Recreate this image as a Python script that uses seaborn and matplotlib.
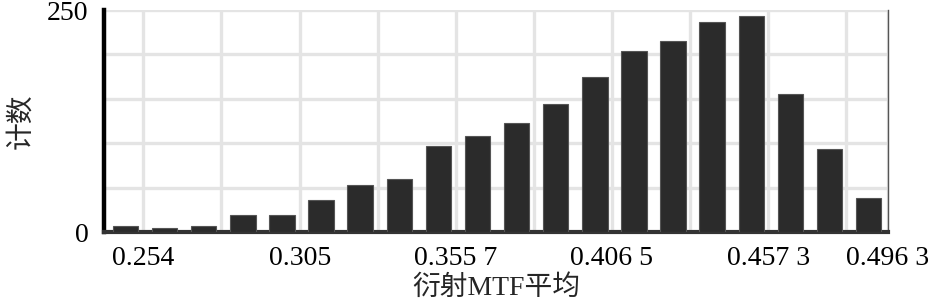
import numpy as np
import pandas as pd
import matplotlib
matplotlib.use("Agg")
import matplotlib.pyplot as plt
import seaborn as sns

# ---- data ----
bin_centers = [0.2483, 0.2610, 0.2738, 0.2865, 0.2992, 0.3119, 0.3246, 0.3374,
               0.3501, 0.3628, 0.3755, 0.3882, 0.4010, 0.4137, 0.4264, 0.4391,
               0.4518, 0.4646, 0.4773, 0.4900]
counts = [7, 5, 7, 19, 19, 36, 53, 60, 97, 108, 123, 144, 175, 204, 215, 236,
          243, 155, 93, 38]
bin_width = 0.01272
x_tick_values = [0.254, 0.305, 0.3557, 0.4065, 0.4573, 0.4963]
x_tick_labels = ["0.254", "0.305", "0.355 7", "0.406 5", "0.457 3", "0.496 3"]
x_grid_values = [0.2794, 0.3304, 0.3811, 0.4319, 0.4827]
y_tick_values = [0, 250]
y_grid_values = [50, 100, 150, 200]
x_label = "衍射MTF平均"
y_label = "计数"

sns.set_theme(style="white")
plt.rcParams["font.family"] = ["Liberation Serif", "Noto Sans CJK SC", "DejaVu Sans"]

df = pd.DataFrame({"mtf": bin_centers, "count": counts})
lo = bin_centers[0] - bin_width / 2
hi = bin_centers[-1] + bin_width / 2

fig = plt.figure(figsize=(9.45, 3.07), dpi=100)
ax = fig.add_axes([104 / 945, 1 - 232 / 307, (888 - 104) / 945, (232 - 10) / 307])

sns.histplot(data=df, x="mtf", weights="count", binwidth=bin_width,
             binrange=(lo, hi), shrink=0.65,
             color="#2b2b2b", edgecolor="#555555", linewidth=0.8, alpha=1.0,
             ax=ax, zorder=3)

ax.set_xlim(0.2413, 0.4963)
ax.set_ylim(0, 250)

ax.set_xticks(x_tick_values)
ax.set_xticklabels(x_tick_labels)
ax.set_xticks(x_grid_values, minor=True)
ax.set_yticks(y_tick_values)
ax.set_yticks(y_grid_values, minor=True)

ax.grid(True, which="both", color="#e4e4e4", linewidth=2.4, zorder=0)
ax.set_axisbelow(True)
ax.tick_params(axis="both", which="both", length=0, labelsize=20, colors="black")
ax.tick_params(axis="x", pad=10)
ax.tick_params(axis="y", pad=11)

ax.set_xlabel(x_label, fontsize=20, labelpad=3)
ax.set_ylabel(y_label, fontsize=20)
ax.yaxis.label.set_va("center")
ax.yaxis.set_label_coords(-0.105, 0.5)

ax.spines["top"].set_visible(False)
ax.spines["left"].set_color("black")
ax.spines["left"].set_linewidth(3.2)
ax.spines["bottom"].set_color("#333333")
ax.spines["bottom"].set_linewidth(3.0)
ax.spines["right"].set_color("#555555")
ax.spines["right"].set_linewidth(1.0)

fig.savefig("out.png", dpi=100, facecolor="white")
